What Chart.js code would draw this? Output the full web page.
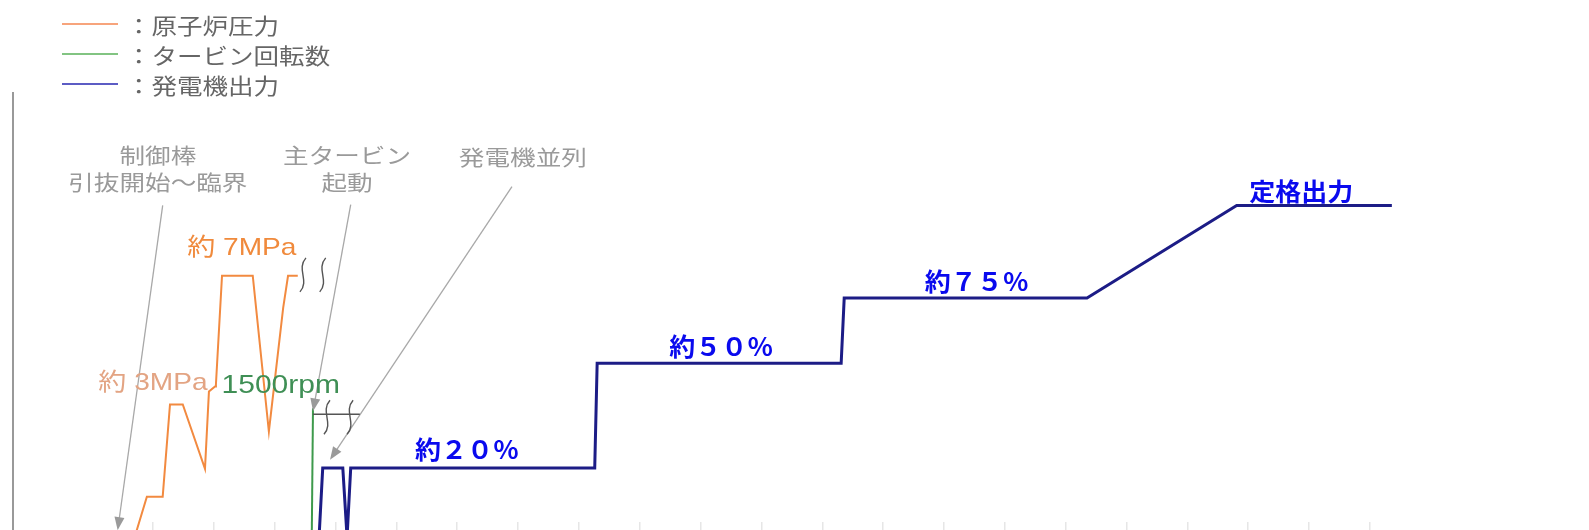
<!DOCTYPE html>
<html>
<head>
<meta charset="utf-8">
<script src="https://cdn.jsdelivr.net/npm/chart.js@4.4.0/dist/chart.umd.min.js"></script>
<style>
    html, body { margin: 0; padding: 0; background: #fff; }
    #wrap { position: relative; width: 1589px; height: 530px; }
    #legend { position: absolute; left: 0; top: 0; }
    .item { position: absolute; left: 62px; width: 400px; height: 30px; }
    .swatch { position: absolute; left: 0; top: 14px; width: 56px; height: 2px; }
    .label { position: absolute; left: 64px; top: 0; line-height: 30px; font-size: 22px;
             font-family: "Noto Sans CJK JP", sans-serif; color: #666;
             transform: scaleX(1.16); transform-origin: left center; white-space: nowrap; }
</style>
</head>
<body>
<div id="wrap">
    <canvas id="chart" width="1589" height="530"></canvas>
    <div id="legend"></div>
</div>
<script>
// series names (legend)
const seriesNames = ['原子炉圧力', 'タービン回転数', '発電機出力'];

// x axis: 10 units between the faint tick marks
const tickValues = [0, 10, 20, 30, 40, 50, 60, 70, 80, 90, 100, 110, 120, 130, 140, 150, 160, 170, 180, 190, 200];

// reactor pressure (orange)
const pressureX = [-3.0, -1.0, 1.6, 2.8, 4.9, 8.55, 9.2, 10.2, 10.35, 11.35, 16.4, 19.05, 21.4, 22.2, 23.8];
const pressureY = [-3.5, 5.9, 5.9, 27.4, 27.4, 12.4, 30.4, 31.6, 32.1, 57.4, 57.4, 21.1, 49.9, 57.4, 57.4];

// turbine speed (green)
const turbineX = [26.1, 26.3];
const turbineY = [-3.5, 26.5];

// generator output (navy)
const outputX = [27.3, 27.9, 31.2, 31.9, 32.5, 72.6, 73.0, 113.1, 113.6, 153.5, 178.1, 203.6];
const outputY = [-3.5, 12.6, 12.6, -3.5, 12.6, 12.6, 37.0, 37.0, 52.2, 52.2, 73.8, 73.8];

// text notes on the chart
const noteTexts = ['制御棒', '引抜開始～臨界', '主タービン', '起動', '発電機並列',
                   '約 7MPa', '約 3MPa', '1500rpm',
                   '約２０％', '約５０％', '約７５％', '定格出力'];
const noteX = [0.8, 0.8, 31.9, 31.9, 60.8, 14.6, 0.0, 21.0, 51.6, 93.4, 135.4, 188.7];
const noteY = [85.5, 79.2, 85.5, 79.2, 85.0, 63.7, 32.3, 31.6, 16.9, 41.0, 56.0, 77.0];
const noteKinds = ['gray', 'gray', 'gray', 'gray', 'gray', 'orange', 'paleOrange', 'green',
                   'blue', 'blue', 'blue', 'blue'];

// pointer arrows (from -> to)
const arrowFromX = [1.6, 32.5, 59.0];
const arrowFromY = [73.8, 74.0, 78.2];
const arrowToX = [-5.8, 26.3, 29.1];
const arrowToY = [-1.9, 25.8, 14.5];

// break marks
const breakX = [24.65, 27.9, 28.6, 32.4];
const breakY = [57.6, 57.6, 24.4, 24.4];
const breakLineX = [26.3, 34.0];
const breakLineY = 25.1;

const noteStyles = {
    gray: { font: '21px "Noto Sans CJK JP"', color: '#9a9a9a', sx: 1.22 },
    orange: { font: '24px "Liberation Sans", "Noto Sans CJK JP"', color: '#f08a3c', sx: 1.17 },
    paleOrange: { font: '24px "Liberation Sans", "Noto Sans CJK JP"', color: '#e3a483', sx: 1.17 },
    green: { font: '25px "Liberation Sans", "Noto Sans CJK JP"', color: '#3f8f55', sx: 1.2 },
    blue: { font: 'bold 25px "Noto Sans CJK JP"', color: '#0a0aee', sx: 1.04 }
};

const lineColors = ['#f28a40', '#3e9a4c', '#1c1c86'];
const legendColors = ['#f7a47c', '#82c482', '#5c5cc4'];

function toPoints(xs, ys) {
    return xs.map((x, i) => ({ x: x, y: ys[i] }));
}

const notesPlugin = {
    id: 'notes',
    afterDatasetsDraw(chart) {
        const ctx = chart.ctx;
        const px = v => chart.scales.x.getPixelForValue(v);
        const py = v => chart.scales.y.getPixelForValue(v);
        ctx.save();

        // left axis line runs down to the bottom edge
        ctx.strokeStyle = '#999';
        ctx.lineWidth = 2;
        ctx.beginPath();
        ctx.moveTo(chart.chartArea.left, chart.chartArea.bottom);
        ctx.lineTo(chart.chartArea.left, chart.height);
        ctx.stroke();

        // arrows
        ctx.strokeStyle = '#a8a8a8';
        ctx.fillStyle = '#9a9a9a';
        ctx.lineWidth = 1.3;
        for (let i = 0; i < arrowFromX.length; i++) {
            const x1 = px(arrowFromX[i]), y1 = py(arrowFromY[i]);
            const x2 = px(arrowToX[i]), y2 = py(arrowToY[i]);
            const a = Math.atan2(y2 - y1, x2 - x1);
            ctx.beginPath();
            ctx.moveTo(x1, y1);
            ctx.lineTo(x2 - 10 * Math.cos(a), y2 - 10 * Math.sin(a));
            ctx.stroke();
            ctx.beginPath();
            ctx.moveTo(x2, y2);
            ctx.lineTo(x2 - 13 * Math.cos(a) + 5 * Math.sin(a), y2 - 13 * Math.sin(a) - 5 * Math.cos(a));
            ctx.lineTo(x2 - 13 * Math.cos(a) - 5 * Math.sin(a), y2 - 13 * Math.sin(a) + 5 * Math.cos(a));
            ctx.closePath();
            ctx.fill();
        }

        // break marks
        ctx.strokeStyle = '#555';
        ctx.lineWidth = 1.4;
        ctx.beginPath();
        ctx.moveTo(px(breakLineX[0]), py(breakLineY));
        ctx.lineTo(px(breakLineX[1]), py(breakLineY));
        ctx.stroke();
        for (let i = 0; i < breakX.length; i++) {
            const x = px(breakX[i]), y = py(breakY[i]), h = 34;
            ctx.beginPath();
            ctx.moveTo(x + 3, y - h / 2);
            ctx.bezierCurveTo(x - 7, y - h / 6, x + 7, y + h / 6, x - 3, y + h / 2);
            ctx.stroke();
        }

        // texts
        ctx.textAlign = 'center';
        ctx.textBaseline = 'middle';
        for (let i = 0; i < noteTexts.length; i++) {
            const st = noteStyles[noteKinds[i]];
            ctx.save();
            ctx.translate(px(noteX[i]), py(noteY[i]));
            ctx.scale(st.sx, 1);
            ctx.font = st.font;
            ctx.fillStyle = st.color;
            ctx.fillText(noteTexts[i], 0, 0);
            ctx.restore();
        }
        ctx.restore();
    }
};

function initChart() {
    const legend = document.getElementById('legend');
    seriesNames.forEach((name, i) => {
        const item = document.createElement('div');
        item.className = 'item';
        item.style.top = (9 + i * 30) + 'px';
        item.innerHTML = '<span class="swatch" style="background:' + legendColors[i] + '"></span>' +
            '<span class="label">：' + name + '</span>';
        legend.appendChild(item);
    });

    new Chart(document.getElementById('chart'), {
        type: 'line',
        data: {
            datasets: [
                { label: seriesNames[0], data: toPoints(pressureX, pressureY), borderColor: lineColors[0], borderWidth: 2 },
                { label: seriesNames[1], data: toPoints(turbineX, turbineY), borderColor: lineColors[1], borderWidth: 2 },
                { label: seriesNames[2], data: toPoints(outputX, outputY), borderColor: lineColors[2], borderWidth: 3 }
            ]
        },
        options: {
            responsive: false,
            animation: false,
            events: [],
            clip: false,
            elements: {
                point: { radius: 0 },
                line: { tension: 0, borderJoinStyle: 'miter', fill: false }
            },
            layout: { padding: { top: 93, left: 13, right: 0, bottom: 0 } },
            plugins: { legend: { display: false }, tooltip: { enabled: false } },
            scales: {
                x: {
                    type: 'linear',
                    min: -23,
                    max: 236,
                    afterBuildTicks: axis => { axis.ticks = tickValues.map(v => ({ value: v })); },
                    ticks: { display: false },
                    grid: { drawOnChartArea: false, drawTicks: true, tickLength: 8, color: '#e6e6e6', lineWidth: 1.5 },
                    border: { display: false }
                },
                y: {
                    min: 0,
                    max: 100,
                    ticks: { display: false },
                    grid: { display: false, drawTicks: false },
                    border: { display: true, color: '#999', width: 2 }
                }
            }
        },
        plugins: [notesPlugin]
    });
}

window.addEventListener('load', initChart);
</script>
</body>
</html>
